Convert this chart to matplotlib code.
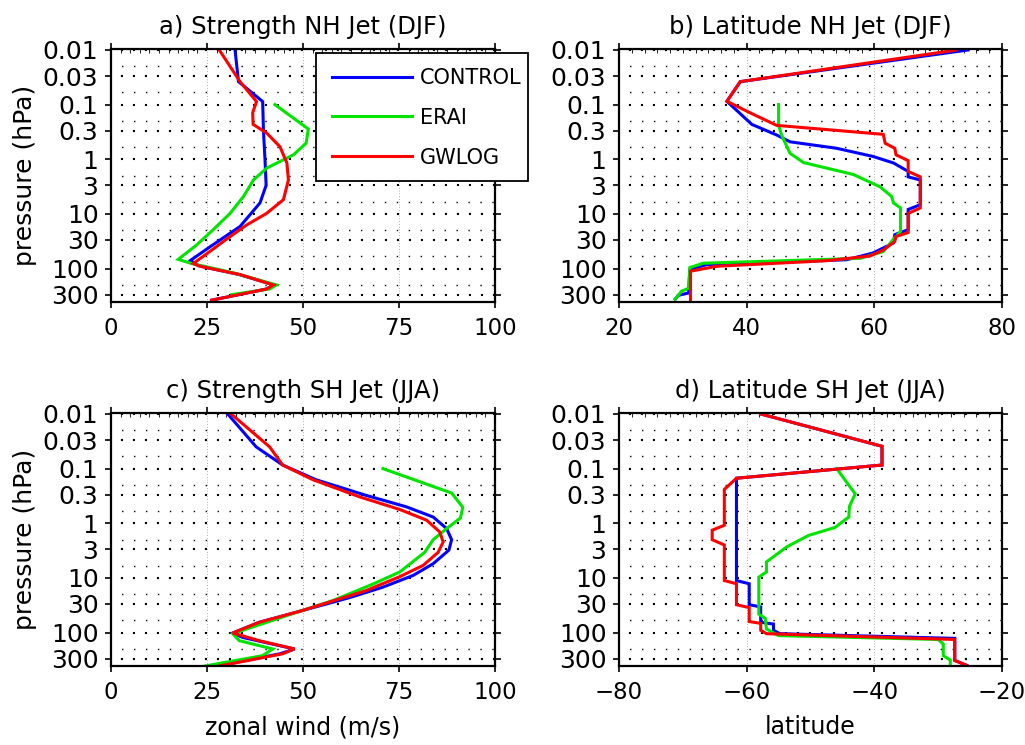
import matplotlib
matplotlib.use("Agg")
import matplotlib.pyplot as plt
from matplotlib.patches import Rectangle
from matplotlib.ticker import FixedLocator, NullFormatter, MultipleLocator

plt.rcParams['font.family'] = ['DejaVu Sans']

# y axis (pressure, hPa)
p_ticks = [0.01, 0.03, 0.1, 0.3, 1, 3, 10, 30, 100, 300]
p_labels = ['0.01', '0.03', '0.1', '0.3', '1', '3', '10', '30', '100', '300']
p_minor = [0.02, 0.06, 0.2, 0.6, 2, 6, 20, 60, 200]

# a) strength NH jet (DJF), zonal wind m/s
a_ctl_p = [0.01, 0.038, 0.088, 0.3, 1, 3, 6.3, 17, 40, 71, 89, 129, 200, 237, 380]
a_ctl_u = [32.3, 33.2, 39.5, 39.7, 40.1, 40.4, 38.8, 33.6, 25.8, 20.7, 22.8, 33.4, 42.5, 40.5, 26.2]
a_era_p = [0.1, 0.28, 0.51, 0.83, 1.46, 2.4, 4.8, 9.8, 19.5, 37, 68, 81, 120, 200, 237, 300]
a_era_u = [42.7, 51.4, 50.8, 47.5, 40.5, 37.1, 34.5, 31.0, 26.6, 22.3, 17.5, 21.0, 31.9, 43.1, 41.3, 31.5]
a_gw_p = [0.01, 0.038, 0.088, 0.14, 0.23, 0.33, 0.59, 1.17, 2.4, 5.5, 9.8, 16, 29, 60, 81, 91, 129, 200, 237, 380]
a_gw_u = [28.2, 33.6, 37.9, 36.9, 37.0, 40.5, 44.0, 45.8, 46.2, 44.9, 40.5, 35.3, 30.1, 24.0, 21.4, 23.2, 33.6, 42.3, 40.5, 26.2]

# b) latitude NH jet (DJF)
b_ctl_p = [0.01, 0.038, 0.087, 0.23, 0.36, 0.48, 0.63, 0.89, 1.17, 1.67, 2.1, 2.4, 6.8, 8.3,
           19.5, 24, 34, 52, 69, 85, 105, 280, 310, 365]
b_ctl_lat = [74.7, 39.0, 36.9, 40.8, 44.7, 46.8, 54.1, 59.8, 63.0, 65.3, 65.3, 67.2, 67.2, 65.3,
             65.3, 63.2, 63.0, 59.8, 55.7, 33.7, 31.1, 30.9, 29.3, 28.8]
b_era_p = [0.1, 0.24, 0.37, 0.78, 1.15, 1.9, 3.2, 4.8, 6.3, 7.8, 21, 29, 49, 65, 80, 96, 230, 260, 365]
b_era_lat = [45.0, 45.0, 45.5, 46.8, 48.9, 56.7, 60.9, 62.7, 63.0, 64.1, 64.1, 63.0, 61.4, 57.8,
             33.2, 31.1, 30.9, 29.8, 28.8]
b_gw_p = [0.01, 0.038, 0.087, 0.15, 0.24, 0.35, 0.51, 0.63, 0.83, 1.06, 1.67, 2.1, 7.8, 9.8,
          22, 26, 32, 46, 59, 72, 91, 112, 380]
b_gw_lat = [72.9, 39.0, 36.9, 41.0, 44.7, 61.4, 61.7, 63.2, 63.4, 65.3, 65.3, 67.2, 67.2, 65.3,
            65.3, 63.4, 63.2, 61.4, 59.3, 52.5, 35.3, 31.2, 31.2]

# c) strength SH jet (JJA)
c_ctl_p = [0.01, 0.04, 0.086, 0.16, 0.31, 0.50, 0.77, 1.25, 2.0, 3.1, 5.5, 9.0, 14.8, 23, 41, 65,
           102, 123, 163, 200, 245, 410]
c_ctl_u = [30.4, 37.8, 44.7, 53.4, 66.5, 76.9, 83.9, 87.4, 88.7, 88.0, 83.9, 78.7, 70.8, 62.1, 49.1,
           38.6, 31.7, 34.3, 42.1, 47.8, 44.0, 27.8]
c_era_p = [0.1, 0.28, 0.51, 0.80, 1.25, 2.0, 3.4, 7.8, 13, 26, 41, 105, 141, 200, 265, 410]
c_era_u = [70.8, 88.7, 91.6, 91.0, 87.4, 83.9, 81.7, 75.2, 68.2, 57.8, 49.1, 31.7, 33.4, 42.1, 39.5, 24.5]
c_gw_p = [0.01, 0.04, 0.086, 0.16, 0.33, 0.56, 0.88, 1.44, 2.2, 3.4, 5.9, 9.5, 17, 41, 65, 102,
          141, 200, 245, 410]
c_gw_u = [31.3, 41.3, 44.7, 52.6, 64.8, 75.2, 82.2, 85.6, 86.5, 85.2, 81.3, 75.2, 66.5, 49.1, 38.6,
          31.7, 38.6, 47.8, 44.7, 28.2]

# d) latitude SH jet (JJA)
d_ctl_p = [0.01, 0.039, 0.086, 0.15, 11.2, 12.8, 31, 34, 65, 70, 91, 105, 128, 325, 400]
d_ctl_lat = [-57.8, -38.8, -38.8, -61.6, -61.6, -59.6, -59.6, -57.8, -57.8, -55.8, -55.8, -54.8,
             -27.4, -27.4, -25.5]
d_era_p = [0.1, 0.29, 0.49, 0.77, 1.2, 1.67, 2.7, 5.1, 7.8, 9.7, 46, 55, 86, 114, 134, 163, 265, 320, 400]
d_era_lat = [-45.9, -43.0, -43.9, -44.0, -46.2, -50.3, -53.7, -56.9, -56.9, -58.1, -58.1, -57.1,
             -56.9, -55.0, -30.0, -29.2, -29.2, -28.1, -28.1]
d_gw_p = [0.01, 0.039, 0.086, 0.15, 0.24, 1.09, 1.34, 2.0, 2.5, 11.2, 12.8, 31, 35, 63, 68, 91,
          105, 134, 325, 400]
d_gw_lat = [-57.8, -38.8, -38.8, -61.6, -63.5, -63.5, -65.4, -65.4, -63.5, -63.5, -61.6, -61.6,
            -59.6, -59.6, -57.8, -57.8, -56.9, -27.4, -27.4, -25.5]

names = ['CONTROL', 'ERAI', 'GWLOG']
colors = ['#0000ff', '#00e400', '#ff0000']

W, H = 1025, 745
fig = plt.figure(figsize=(W / 100, H / 100), dpi=100)


def make_axes(left, top, right, bottom):
    return fig.add_axes([left / W, 1 - bottom / H, (right - left) / W, (bottom - top) / H])


def setup(ax, xlim, xmajor, xminor, title):
    ax.set_yscale('log')
    ax.set_ylim(410, 0.0096)
    ax.yaxis.set_major_locator(FixedLocator(p_ticks))
    ax.yaxis.set_minor_locator(FixedLocator(p_minor))
    ax.yaxis.set_minor_formatter(NullFormatter())
    ax.set_yticklabels(p_labels)
    ax.set_xlim(*xlim)
    ax.xaxis.set_major_locator(MultipleLocator(xmajor))
    ax.xaxis.set_minor_locator(MultipleLocator(xminor))

    ax.grid(axis='y', which='major', color='k', linestyle=(1, (1, 4.76)), linewidth=1.5)
    ax.grid(axis='y', which='minor', color='k', linestyle=(1, (1, 7.6)), linewidth=1.0)
    ax.grid(axis='x', which='major', color='0.4', linestyle=(0, (1, 3)), linewidth=0.5)
    ax.set_axisbelow(True)

    ax.tick_params(which='major', direction='out', length=4, width=1.2, top=True, right=True)
    ax.tick_params(axis='y', which='major', labelsize=18, pad=5)
    ax.tick_params(axis='x', which='major', labelsize=16.5, pad=7)
    ax.tick_params(axis='y', which='minor', length=0)
    ax.tick_params(axis='x', which='minor', direction='in', length=3, width=0.6,
                   top=True, bottom=False)
    for s in ax.spines.values():
        s.set_linewidth(1.6)
    ax.set_title(title, fontsize=17.5, pad=11)


panels = [
    ((111, 49, 495, 302), (0, 100), 25, 2.5, 'a) Strength NH Jet (DJF)',
     [(a_ctl_u, a_ctl_p), (a_era_u, a_era_p), (a_gw_u, a_gw_p)]),
    ((619, 49, 1002, 302), (20, 80), 20, 2, 'b) Latitude NH Jet (DJF)',
     [(b_ctl_lat, b_ctl_p), (b_era_lat, b_era_p), (b_gw_lat, b_gw_p)]),
    ((111, 413, 495, 666), (0, 100), 25, 2.5, 'c) Strength SH Jet (JJA)',
     [(c_ctl_u, c_ctl_p), (c_era_u, c_era_p), (c_gw_u, c_gw_p)]),
    ((619, 413, 1002, 666), (-80, -20), 20, 2, 'd) Latitude SH Jet (JJA)',
     [(d_ctl_lat, d_ctl_p), (d_era_lat, d_era_p), (d_gw_lat, d_gw_p)]),
]

axes = []
handles = []
for box, xlim, xmaj, xmin, title, series in panels:
    ax = make_axes(*box)
    setup(ax, xlim, xmaj, xmin, title)
    hs = []
    for (x, p), c, n in zip(series, colors, names):
        h, = ax.plot(x, p, color=c, lw=2.2, label=n, solid_joinstyle='miter')
        hs.append(h)
    if not handles:
        handles = hs
    axes.append(ax)

axes[0].set_ylabel('pressure (hPa)', fontsize=18, labelpad=4)
axes[2].set_ylabel('pressure (hPa)', fontsize=18, labelpad=4)
axes[2].set_xlabel('zonal wind (m/s)', fontsize=17, labelpad=8)
axes[3].set_xlabel('latitude', fontsize=17, labelpad=8)

# legend box (white, black edge) sitting over panel a and sticking out to the right
fig.patches.append(Rectangle((316 / W, 1 - 181 / H), 212 / W, 128 / H,
                             transform=fig.transFigure, facecolor='white',
                             edgecolor='k', linewidth=1.3, zorder=1))
leg = fig.legend(handles, names, loc='upper left', bbox_to_anchor=(332 / W, 1 - 68 / H),
                 bbox_transform=fig.transFigure, frameon=False, borderpad=0,
                 borderaxespad=0, fontsize=15, handlelength=3.85, handletextpad=0.38,
                 labelspacing=0.95)
leg.set_zorder(5)

fig.savefig('out.png', dpi=100)
